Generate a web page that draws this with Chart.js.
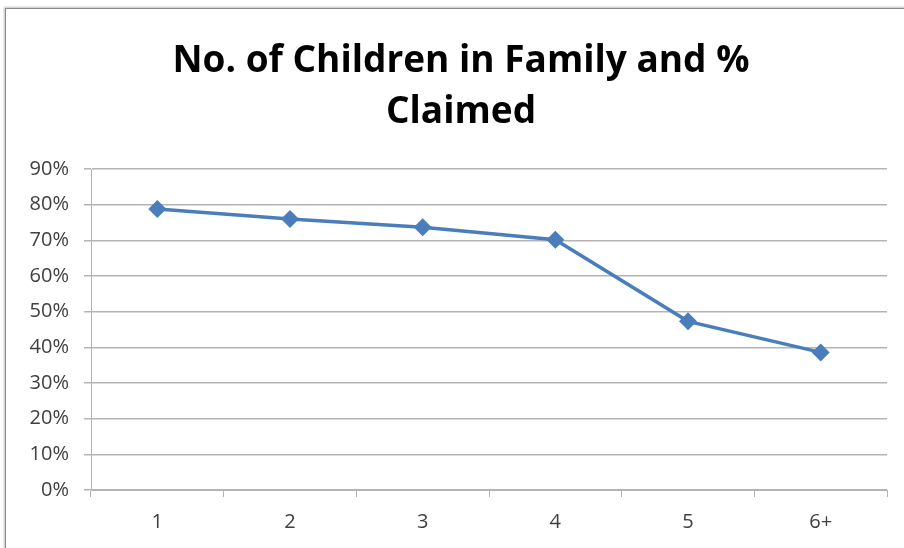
<!DOCTYPE html>
<html lang="en">
<head>
    <meta charset="UTF-8">
    <title>No. of Children in Family and % Claimed</title>
    <script src="https://cdn.jsdelivr.net/npm/chart.js"></script>
    <style>
        body { margin: 0; background: #fff; }
        #frame {
            position: absolute; left: 5px; top: 8px;
            width: 920px; height: 560px;
            border: 1px solid #8a8a8a;
            box-shadow: -1px -1px 2px rgba(0,0,0,0.25);
        }
        #box { position: absolute; left: 6px; top: 9px; width: 898px; height: 539px; }
    </style>
</head>
<body>
    <div id="frame"></div>
    <div id="box"><canvas id="claimChart"></canvas></div>
    <script>
        // children per family and share claimed
        const categories = ['1', '2', '3', '4', '5', '6+'];
        const claimedPct = [78.8, 76.0, 73.7, 70.2, 47.3, 38.6];
        const yTicks = [0, 10, 20, 30, 40, 50, 60, 70, 80, 90];

        const FONT = '"Open Sans", Lato, sans-serif';
        const blue = '#4a7ebb';
        const gridGray = '#b4b4b4';

        const ctx = document.getElementById('claimChart').getContext('2d');
        new Chart(ctx, {
            type: 'line',
            data: {
                labels: categories,
                datasets: [{
                    data: claimedPct,
                    borderColor: blue,
                    backgroundColor: blue,
                    borderWidth: 3.5,
                    pointStyle: 'rectRot',
                    pointRadius: 9,
                    pointHoverRadius: 9,
                    pointBackgroundColor: blue,
                    pointBorderColor: blue,
                    pointBorderWidth: 0,
                    tension: 0
                }]
            },
            options: {
                responsive: true,
                maintainAspectRatio: false,
                animation: false,
                // left padding pushes the title's centre a bit right
                layout: { padding: { left: 29, right: 17, top: 0, bottom: 0 } },
                plugins: {
                    legend: { display: false },
                    tooltip: { enabled: false },
                    title: {
                        display: true,
                        text: ['No. of Children in Family and %', 'Claimed'],
                        color: '#000',
                        font: { family: FONT, size: 37, weight: 'bold', lineHeight: 1.38 },
                        padding: { top: 27, bottom: 31 }
                    }
                },
                scales: {
                    x: {
                        offset: true,
                        afterFit: s => { s.height = 58; },
                        grid: {
                            offset: true,
                            drawOnChartArea: false,
                            drawTicks: true,
                            tickLength: 7,
                            color: gridGray
                        },
                        border: { color: gridGray, width: 1 },
                        ticks: {
                            color: '#404040',
                            padding: 13,
                            font: { family: FONT, size: 20 }
                        }
                    },
                    y: {
                        min: 0,
                        max: 90,
                        afterFit: s => {
                            s.width = 56;
                            // let the % labels run into the left padding
                            s._computeLabelArea = () => undefined;
                        },
                        afterBuildTicks: s => { s.ticks = yTicks.map(v => ({ value: v })); },
                        grid: {
                            color: gridGray,
                            lineWidth: 1.5,
                            tickLength: 7
                        },
                        border: { color: gridGray, width: 1 },
                        ticks: {
                            color: '#404040',
                            padding: 15,
                            font: { family: FONT, size: 20 },
                            callback: v => v + '%'
                        }
                    }
                }
            }
        });
    </script>
</body>
</html>
